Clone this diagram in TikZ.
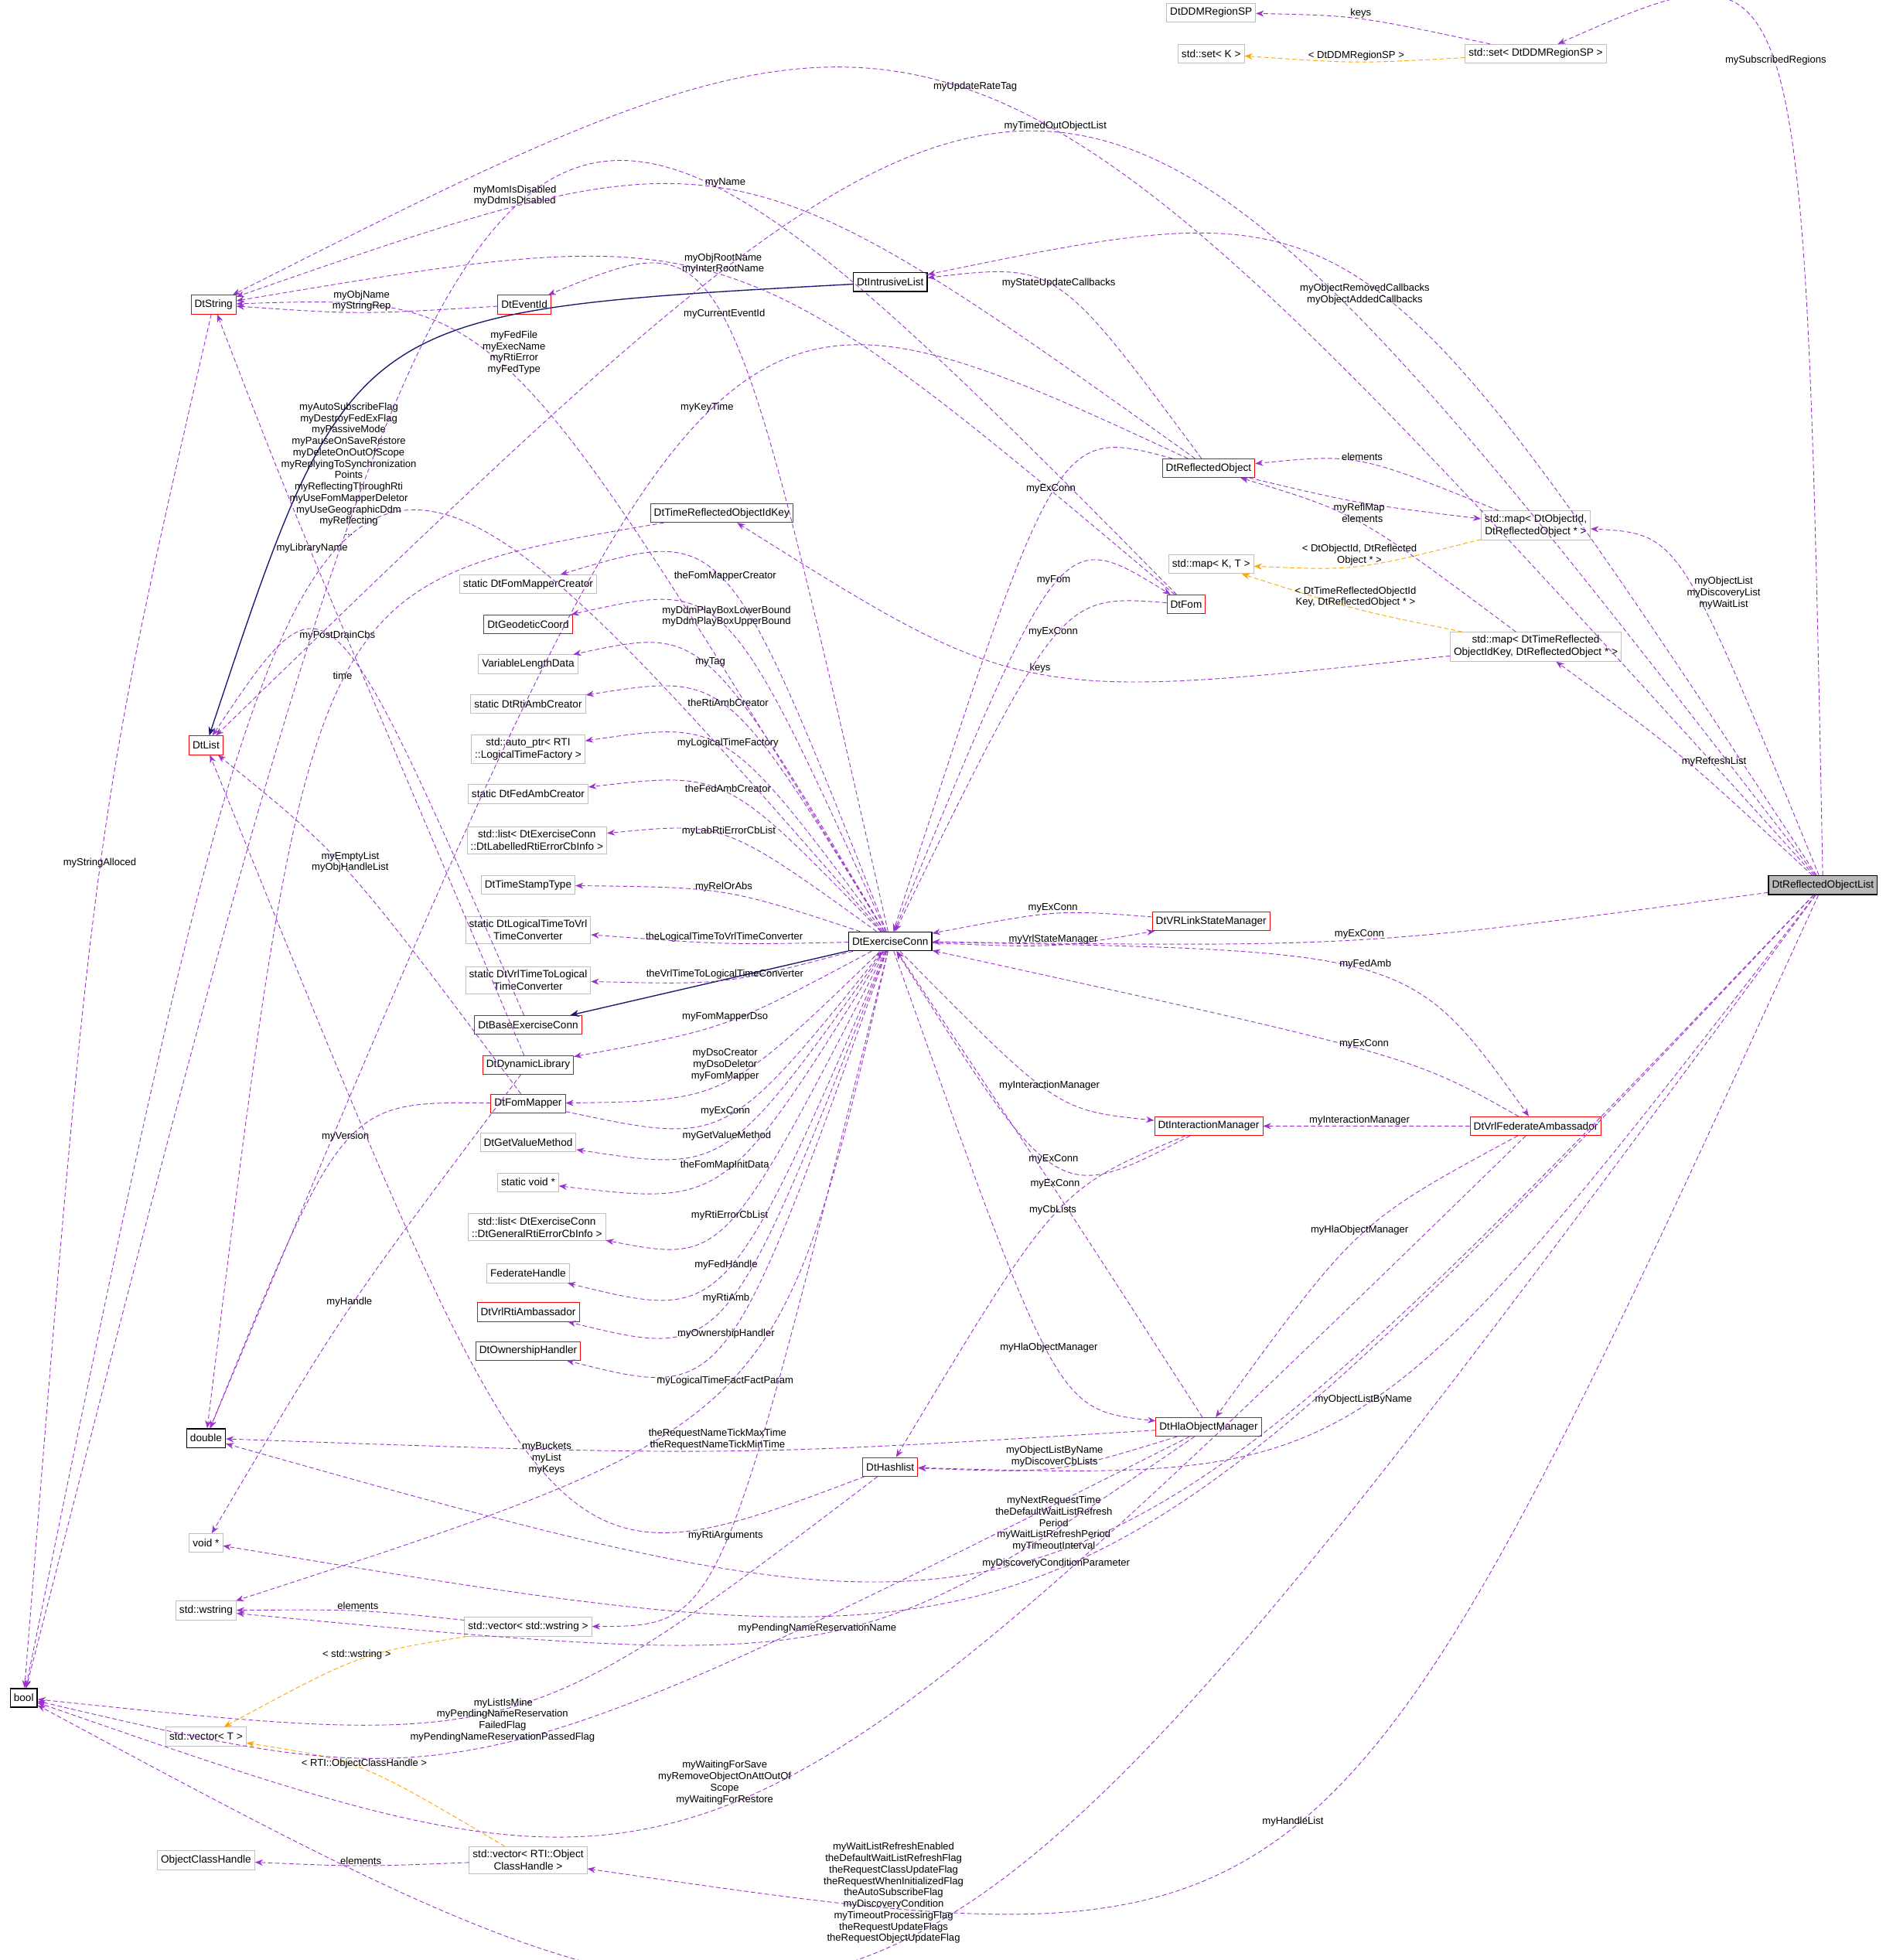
\documentclass[tikz,border=0pt]{standalone}
\usepackage{fontspec}
\setmainfont{Liberation Sans}
\usetikzlibrary{calc,arrows.meta}
\definecolor{ep}{HTML}{9A32CD}
\definecolor{eo}{HTML}{FFA500}
\definecolor{nv}{HTML}{191970}
\definecolor{gb}{HTML}{BFBFBF}
\tikzset{
 box/.style={draw=gb,fill=white,font=\fontsize{12}{14}\selectfont,inner sep=4pt,minimum height=0.75cm,align=center,line width=0.8pt},
 rbox/.style={box,draw=red},
 kbox/.style={box,draw=black,line width=1.2pt},
 lab/.style={font=\fontsize{11.5}{13}\selectfont,align=center,anchor=south,inner sep=1pt,text=black,pos=0.5},
 e/.style={draw=ep,line width=0.8pt,dash pattern=on 5pt off 3pt,-{Stealth[length=9pt,width=7pt,fill=ep]}},
 eot/.style={draw=eo,line width=0.8pt,dash pattern=on 5pt off 3pt,-{Stealth[length=9pt,width=7pt,fill=eo]}},
 inh/.style={draw=nv,line width=1.2pt,-{Stealth[length=10pt,width=8pt]}},
}
\newcommand\ed[5][]{\draw[e] (#2) .. controls ($1.33333*(#4)-0.166667*(#2)-0.166667*(#3)$) .. (#3) node[lab,#1]{#5};}
\newcommand\edo[5][]{\draw[eot] (#2) .. controls ($1.33333*(#4)-0.166667*(#2)-0.166667*(#3)$) .. (#3) node[lab,#1]{#5};}
\begin{document}
\begin{tikzpicture}[x=0.05cm,y=-0.05cm]
\useasboundingbox (0,0) rectangle (1516,1570);
% nodes
\node[box] (ddm) at (970,10) {DtDDMRegionSP};
\node[box] (setK) at (970,43) {std::set< K >};
\node[box] (setD) at (1230,43) {std::set< DtDDMRegionSP >};
\node[kbox,fill=gray!55] (rol) at (1460,709) {DtReflectedObjectList};
\node[rbox] (str) at (171,244) {DtString};
\node[rbox] (evt) at (420,244) {DtEventId};
\node[kbox] (il) at (713,226) {DtIntrusiveList};
\node[rbox] (lst) at (165,597) {DtList};
\node[kbox] (dbl) at (165,1152) {double};
\node[kbox] (bool) at (19,1360) {bool};
\node[box] (void) at (165,1236) {void *};
\node[box] (ws) at (165,1290) {std::wstring};
\node[box] (vecT) at (165,1391) {std::vector< T >};
\node[box] (och) at (165,1490) {ObjectClassHandle};
\node[box] (vecR) at (423,1490) {std::vector< RTI::Object\\ClassHandle >};
\node[box] (vecW) at (423,1303) {std::vector< std::wstring >};
\node[rbox] (ro) at (968,375) {DtReflectedObject};
\node[rbox] (fom) at (950,484) {DtFom};
\node[box] (mapO) at (1230,421) {std::map< DtObjectId,\\DtReflectedObject * >};
\node[box] (mapKT) at (970,452) {std::map< K, T >};
\node[box] (mapT) at (1230,518) {std::map< DtTimeReflected\\ObjectIdKey, DtReflectedObject * >};
\node[rbox] (trk) at (578,411) {DtTimeReflectedObjectIdKey};
\node[box] (sfmc) at (423,468) {static DtFomMapperCreator};
\node[rbox] (geo) at (423,500) {DtGeodeticCoord};
\node[box] (vld) at (423,532) {VariableLengthData};
\node[box] (srac) at (423,564) {static DtRtiAmbCreator};
\node[box] (aptr) at (423,600) {std::auto\_ptr< RTI\\::LogicalTimeFactory >};
\node[box] (sfac) at (423,636) {static DtFedAmbCreator};
\node[box] (llab) at (430,673) {std::list< DtExerciseConn\\::DtLabelledRtiErrorCbInfo >};
\node[box] (tst) at (423,709) {DtTimeStampType};
\node[box] (slt) at (423,745) {static DtLogicalTimeToVrl\\TimeConverter};
\node[box] (svt) at (423,785) {static DtVrlTimeToLogical\\TimeConverter};
\node[rbox] (base) at (423,821) {DtBaseExerciseConn};
\node[rbox] (dyn) at (423,853) {DtDynamicLibrary};
\node[rbox] (fm) at (423,884) {DtFomMapper};
\node[box] (gvm) at (423,915) {DtGetValueMethod};
\node[box] (svoid) at (423,947) {static void *};
\node[box] (lgen) at (430,983) {std::list< DtExerciseConn\\::DtGeneralRtiErrorCbInfo >};
\node[box] (fh) at (423,1020) {FederateHandle};
\node[rbox] (vra) at (423,1051) {DtVrlRtiAmbassador};
\node[rbox] (own) at (423,1082) {DtOwnershipHandler};
\node[kbox] (ec) at (713,754) {DtExerciseConn};
\node[rbox] (vsm) at (970,738) {DtVRLinkStateManager};
\node[rbox] (im) at (968,902) {DtInteractionManager};
\node[rbox] (vfa) at (1230,902) {DtVrlFederateAmbassador};
\node[rbox] (hom) at (968,1143) {DtHlaObjectManager};
\node[rbox] (hl) at (713,1175) {DtHashlist};
% inheritance
\draw[inh] (ec) -- (base);
\draw[inh] (il) .. controls ($1.33333*(320,290)-0.166667*(il)-0.166667*(lst)$) .. (lst);
% template
\edo{setD}{setK}{1090,49}{< DtDDMRegionSP >}
\edo{mapO}{mapKT}{1090,452}{< DtObjectId, DtReflected\\Object * >}
\edo{mapT}{mapKT}{1090,488}{< DtTimeReflectedObjectId\\Key, DtReflectedObject * >}
\edo{vecW}{vecT}{290,1330}{< std::wstring >}
\edo{vecR}{vecT}{290,1418}{< RTI::ObjectClassHandle >}
% from ROL
\ed{rol}{str}{780,76}{myUpdateRateTag}
\ed{rol}{lst}{845,108}{myTimedOutObjectList}
\ed[anchor=north]{rol}{il}{1090,228}{myObjectRemovedCallbacks\\myObjectAddedCallbacks}
\ed{rol}{setD}{1420,55}{mySubscribedRegions}
\ed[anchor=north west]{rol}{mapO}{1345,462}{myObjectList\\myDiscoveryList\\myWaitList}
\ed[anchor=north west]{rol}{mapT}{1345,605}{myRefreshList}
\ed{rol}{ec}{1090,752}{myExConn}
\ed{rol}{hl}{1090,1125}{myObjectListByName}
\ed{rol}{dbl}{843,1242}{myNextRequestTime\\theDefaultWaitListRefresh\\Period\\myWaitListRefreshPeriod\\myTimeoutInterval}
\ed{rol}{void}{845,1256}{myDiscoveryConditionParameter}
\ed{rol}{vecR}{1030,1462}{myHandleList}
\ed{rol}{bool}{715,1556}{myWaitListRefreshEnabled\\theDefaultWaitListRefreshFlag\\theRequestClassUpdateFlag\\theRequestWhenInitializedFlag\\theAutoSubscribeFlag\\myDiscoveryCondition\\myTimeoutProcessingFlag\\theRequestUpdateFlags\\theRequestObjectUpdateFlag}
% EC to left column
\ed{ec}{sfmc}{578,468}{theFomMapperCreator}
\ed{ec}{geo}{578,505}{myDdmPlayBoxLowerBound\\myDdmPlayBoxUpperBound}
\ed{ec}{vld}{565,537}{myTag}
\ed{ec}{srac}{578,569}{theRtiAmbCreator}
\ed{ec}{aptr}{578,602}{myLogicalTimeFactory}
\ed{ec}{sfac}{578,637}{theFedAmbCreator}
\ed{ec}{llab}{578,672}{myLabRtiErrorCbList}
\ed{ec}{tst}{578,716}{myRelOrAbs}
\ed{ec}{slt}{578,755}{theLogicalTimeToVrlTimeConverter}
\ed{ec}{svt}{578,784}{theVrlTimeToLogicalTimeConverter}
\ed{ec}{dyn}{578,819}{myFomMapperDso}
\ed{ec}{fm}{578,866}{myDsoCreator\\myDsoDeletor\\myFomMapper}
\ed{fm}{ec}{578,893}{myExConn}
\ed{ec}{gvm}{578,913}{myGetValueMethod}
\ed{ec}{svoid}{578,937}{theFomMapInitData}
\ed{ec}{lgen}{578,976}{myRtiErrorCbList}
\ed{ec}{fh}{578,1016}{myFedHandle}
\ed{ec}{vra}{578,1043}{myRtiAmb}
\ed{ec}{own}{578,1071}{myOwnershipHandler}
\ed{ec}{ws}{578,1111}{myLogicalTimeFactFactParam}
\ed{ec}{vecW}{575,1234}{myRtiArguments}
\ed{ec}{evt}{578,258}{myCurrentEventId}
\ed{ec}{str}{410,302}{myFedFile\\myExecName\\myRtiError\\myFedType}
\ed{ec}{bool}{280,432}{myAutoSubscribeFlag\\myDestroyFedExFlag\\myPassiveMode\\myPauseOnSaveRestore\\myDeleteOnOutOfScope\\myReplyingToSynchronization\\Points\\myReflectingThroughRti\\myUseFomMapperDeletor\\myUseGeographicDdm\\myReflecting\\...}
% left-side misc
\ed{dyn}{str}{250,444}{myLibraryName}
\ed{base}{lst}{270,516}{myPostDrainCbs}
\ed{trk}{dbl}{280,545}{time}
\ed{ro}{dbl}{568,333}{myKeyTime}
\ed{fm}{lst}{280,700}{myEmptyList\\myObjHandleList}
\ed{fm}{dbl}{280,916}{myVersion}
\ed{dyn}{void}{280,1048}{myHandle}
\ed{hl}{lst}{440,1180}{myBuckets\\myList\\myKeys}
\ed{hom}{dbl}{578,1162}{theRequestNameTickMaxTime\\theRequestNameTickMinTime}
\ed{hl}{bool}{403,1368}{myListIsMine}
\ed{str}{bool}{80,696}{myStringAlloced}
\ed{evt}{str}{290,250}{myObjName\\myStringRep}
\ed{fom}{bool}{413,168}{myMomIsDisabled\\myDdmIsDisabled}
\ed{ro}{str}{580,153}{myName}
\ed{fom}{str}{578,222}{myObjRootName\\myInterRootName}
\ed{ro}{il}{845,233}{myStateUpdateCallbacks}
\ed{ro}{ec}{845,398}{myExConn}
\ed[anchor=north]{ro}{mapO}{1090,402}{myReflMap}
\ed{mapO}{ro}{1090,372}{elements}
\ed{mapT}{ro}{1090,420}{elements}
\ed{mapT}{trk}{840,538}{keys}
\ed{ec}{fom}{845,471}{myFom}
\ed{fom}{ec}{845,512}{myExConn}
\ed{vsm}{ec}{845,733}{myExConn}
\ed{ec}{vsm}{845,756}{myVrlStateManager}
\ed{ec}{vfa}{1090,778}{myFedAmb}
\ed{vfa}{ec}{1090,841}{myExConn}
\ed{ec}{im}{845,874}{myInteractionManager}
\ed{im}{ec}{845,931}{myExConn}
\ed{vfa}{im}{1090,902}{myInteractionManager}
\ed{hom}{ec}{845,953}{myExConn}
\ed{ec}{hom}{845,1084}{myHlaObjectManager}
\ed{vfa}{hom}{1090,990}{myHlaObjectManager}
\ed{im}{hl}{845,974}{myCbLists}
\ed{hom}{hl}{845,1175}{myObjectListByName\\myDiscoverCbLists}
\ed{hom}{ws}{653,1308}{myPendingNameReservationName}
\ed{hom}{bool}{403,1395}{myPendingNameReservation\\FailedFlag\\myPendingNameReservationPassedFlag}
\ed{vfa}{bool}{580,1445}{myWaitingForSave\\myRemoveObjectOnAttOutOf\\Scope\\myWaitingForRestore}
\ed{setD}{ddm}{1090,16}{keys}
\ed{vecW}{ws}{290,1291}{elements}
\ed{vecR}{och}{290,1494}{elements}
\end{tikzpicture}
\end{document}
